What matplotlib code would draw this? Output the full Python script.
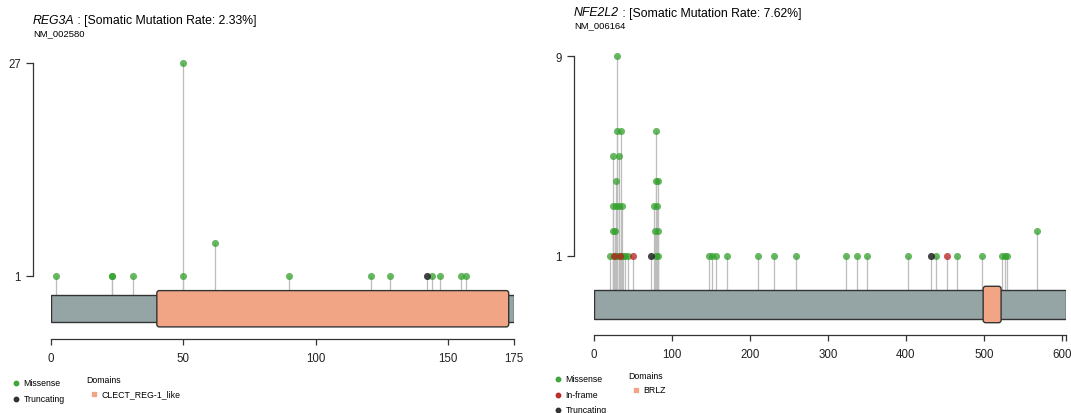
#!/usr/bin/env python3
"""Lollipop plots of somatic mutations for REG3A and NFE2L2."""

import matplotlib

matplotlib.use("Agg")
import matplotlib.pyplot as plt
from matplotlib.patches import FancyBboxPatch, Rectangle
from matplotlib.lines import Line2D

# ---- mutation data -------------------------------------------------------
REG3A_GENE = "REG3A"
REG3A_TX = "NM_002580"
REG3A_RATE = "2.33%"
REG3A_LENGTH = 175
REG3A_DOMAIN_NAME = "CLECT_REG-1_like"
REG3A_DOMAIN = (40, 173)
REG3A_POS = [2, 23, 23, 31, 50, 50, 62, 90, 121, 128, 142, 144, 147, 155, 157]
REG3A_COUNT = [1, 1, 1, 1, 1, 27, 5, 1, 1, 1, 1, 1, 1, 1, 1]
REG3A_CLASS = ["Missense"] * 10 + ["Truncating"] + ["Missense"] * 4

NFE2L2_GENE = "NFE2L2"
NFE2L2_TX = "NM_006164"
NFE2L2_RATE = "7.62%"
NFE2L2_LENGTH = 605
NFE2L2_DOMAIN_NAME = "BRLZ"
NFE2L2_DOMAIN = (499, 522)
NFE2L2_POS = [
    # single hits along the protein
    20, 27, 29, 35, 37, 40, 43, 80, 82, 147, 151, 156, 170, 210, 231, 259,
    323, 337, 350, 402, 438, 465, 497, 523, 527, 530,
    25, 33, 50, 453,
    73, 432,
    # recurrent hotspots in the Neh2 region
    24, 27, 78, 82, 568,
    24, 28, 32, 36, 77, 81,
    28, 79, 82,
    24, 32,
    30, 35, 79,
    30,
]
NFE2L2_COUNT = (
    [1] * 26 + [1] * 4 + [1] * 2
    + [2] * 5 + [3] * 6 + [4] * 3 + [5] * 2 + [6] * 3 + [9]
)
NFE2L2_CLASS = (
    ["Missense"] * 26 + ["In-frame"] * 4 + ["Truncating"] * 2
    + ["Missense"] * 20
)

CLASS_COLORS = {"Missense": "#33A02C", "In-frame": "#B5201C", "Truncating": "#222222"}
CLASS_ALPHA = {"Missense": 0.75, "In-frame": 0.75, "Truncating": 0.85}
BAR_COLOR = "#95A5A6"
DOMAIN_COLOR = "#F2A584"

W, H = 1071, 414


def fx(px):
    return px / W


def fy(py):
    return 1 - py / H


def lollipop(fig, gene, tx, rate, length, dom_name, dom, pos, count, cls, lay):
    x0, x1 = lay["x0"], lay["x1"]
    ytop, ylev1, axis_y = lay["ytop"], lay["ylev1"], lay["axis_y"]
    top = max(count)
    ppc = (ylev1 - ytop) / (top - 1)  # pixels per count
    pxaa = (x1 - x0) / length  # pixels per residue

    def ydata(py):
        return 1 - (py - ylev1) / ppc

    ax = fig.add_axes([fx(x0), fy(axis_y), fx(x1) - fx(x0), (axis_y - ytop) / H])
    ax.set_xlim(0, length)
    ax.set_ylim(ydata(axis_y), top)
    ax.patch.set_alpha(0)

    for s in ("top", "right"):
        ax.spines[s].set_visible(False)
    ax.spines["left"].set_position(("outward", (x0 - lay["spine_x"]) * 0.72))
    ax.spines["left"].set_bounds(1, top)
    ax.spines["bottom"].set_bounds(0, length)
    for s in ("left", "bottom"):
        ax.spines[s].set_color("#333333")
        ax.spines[s].set_linewidth(0.9)
    ax.set_yticks([1, top])
    ax.set_xticks(lay["xticks"])
    ax.set_xticklabels([str(t) if t in lay["xlabels"] else "" for t in lay["xticks"]])
    ax.tick_params(axis="x", direction="out", length=4.5, width=0.9, pad=5,
                   labelsize=8.3, color="#333333", labelcolor="#222222")
    ax.tick_params(axis="y", direction="out", length=4.8, width=0.9, pad=4,
                   labelsize=8.3, color="#333333", labelcolor="#222222")

    # stems from the protein bar up to each point
    stem_base = ydata((lay["bar"][0] + lay["bar"][1]) / 2)
    ax.vlines(pos, stem_base, count, color="#BDBDBD", linewidth=0.9, zorder=1)

    # protein backbone and domain
    b_top, b_bot = ydata(lay["bar"][0]), ydata(lay["bar"][1])
    ax.add_patch(Rectangle((0, b_bot), length, b_top - b_bot, facecolor=BAR_COLOR,
                           edgecolor="#333333", linewidth=1.0, zorder=2))
    d_top, d_bot = ydata(lay["dom"][0]), ydata(lay["dom"][1])
    r = 2.5 / pxaa
    ax.add_patch(FancyBboxPatch((dom[0], d_bot), dom[1] - dom[0], d_top - d_bot,
                                boxstyle=f"round,pad=0,rounding_size={r}",
                                mutation_aspect=pxaa / ppc,
                                facecolor=DOMAIN_COLOR, edgecolor="#333333",
                                linewidth=1.0, zorder=3))

    for c in CLASS_COLORS:
        idx = [i for i, k in enumerate(cls) if k == c]
        if not idx:
            continue
        ax.scatter([pos[i] for i in idx], [count[i] for i in idx], s=26,
                   color=CLASS_COLORS[c], alpha=CLASS_ALPHA[c], linewidths=0,
                   zorder=4, clip_on=False)

    # title: italic gene symbol followed by the mutation rate
    t = fig.text(fx(lay["title_x"]), fy(lay["title_y"]), gene, style="italic",
                 fontsize=8.8, va="center", ha="left")
    ax.annotate(f" : [Somatic Mutation Rate: {rate}]", xy=(1, 0), xycoords=t,
                fontsize=8.8, va="bottom", ha="left", annotation_clip=False)
    fig.text(fx(lay["title_x"]), fy(lay["title_y"] + 12.5), tx, fontsize=6.8,
             va="center", ha="left")

    # legend
    lx, ly = lay["leg_x"], lay["leg_y"]
    classes = [c for c in CLASS_COLORS if c in cls]
    for i, c in enumerate(classes):
        yy = ly + i * 15.5
        fig.add_artist(Line2D([fx(lx)], [fy(yy)], marker="o", markersize=3.2,
                              color=CLASS_COLORS[c], alpha=0.9, linestyle="none",
                              transform=fig.transFigure))
        fig.text(fx(lx + 8), fy(yy), c, fontsize=6.3, va="center", ha="left")
    dx = lx + 71
    fig.text(fx(dx), fy(ly - 3), "Domains", fontsize=6.3, va="center", ha="left")
    fig.add_artist(Line2D([fx(dx + 7)], [fy(ly + 11)], marker="s", markersize=3.2,
                          color=DOMAIN_COLOR, linestyle="none",
                          transform=fig.transFigure))
    fig.text(fx(dx + 15), fy(ly + 11), dom_name, fontsize=6.3, va="center", ha="left")
    return ax


def main():
    plt.rcParams["font.family"] = ["Liberation Sans", "DejaVu Sans"]
    fig = plt.figure(figsize=(W / 100, H / 100), dpi=100)

    left = dict(x0=51, x1=514, ytop=64, ylev1=276.5, axis_y=340, spine_x=33,
                bar=(295.7, 323.4), dom=(291.6, 327.9),
                xticks=[0, 50, 100, 150, 175], xlabels=[0, 50, 100, 150, 175],
                title_x=33, title_y=21, leg_x=15.6, leg_y=384)
    right = dict(x0=594.1, x1=1065.8, ytop=57, ylev1=256.5, axis_y=335.6, spine_x=574,
                 bar=(291.4, 319.7), dom=(287.3, 323.7),
                 xticks=[0, 100, 200, 300, 400, 500, 600, 605],
                 xlabels=[0, 100, 200, 300, 400, 500, 600],
                 title_x=574, title_y=13.5, leg_x=557.7, leg_y=380)

    lollipop(fig, REG3A_GENE, REG3A_TX, REG3A_RATE, REG3A_LENGTH, REG3A_DOMAIN_NAME,
             REG3A_DOMAIN, REG3A_POS, REG3A_COUNT, REG3A_CLASS, left)
    lollipop(fig, NFE2L2_GENE, NFE2L2_TX, NFE2L2_RATE, NFE2L2_LENGTH, NFE2L2_DOMAIN_NAME,
             NFE2L2_DOMAIN, NFE2L2_POS, NFE2L2_COUNT, NFE2L2_CLASS, right)

    fig.savefig("out.png", dpi=100, facecolor="white")


if __name__ == "__main__":
    main()
